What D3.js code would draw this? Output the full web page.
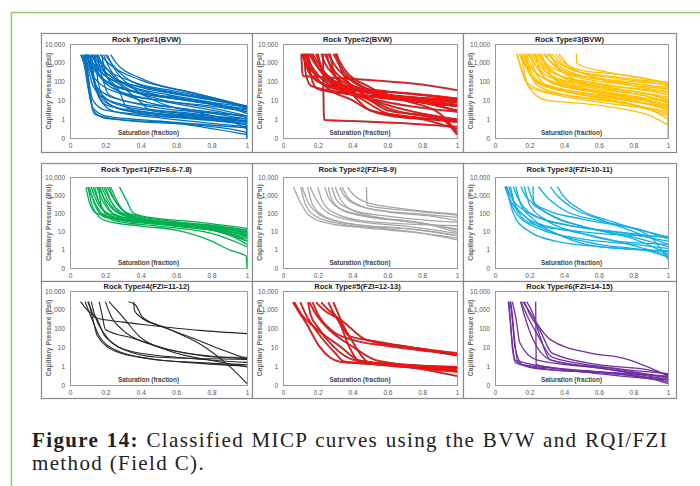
<!DOCTYPE html>
<html>
<head>
<meta charset="utf-8">
<script src="https://cdn.jsdelivr.net/npm/d3@7"></script>
<style>
  body { margin: 0; background: #fff; }
  svg { display: block; }
</style>
</head>
<body>
<svg id="chart" width="700" height="486"></svg>
<script>
// ---- data ----
var xTicks = [0, 0.2, 0.4, 0.6, 0.8, 1];
var xTickLabels = ["0", "0.2", "0.4", "0.6", "0.8", "1"];
var yTicks = [0.1, 1, 10, 100, 1000, 10000];
var yTickLabels = ["0", "1", "10", "100", "1,000", "10,000"];

var titles = ["Rock Type#1(BVW)", "Rock Type#2(BVW)", "Rock Type#3(BVW)",
  "Rock Type#1(FZI=6.6-7.8)", "Rock Type#2(FZI=8-9)", "Rock Type#3(FZI=10-11)",
  "Rock Type#4(FZI=11-12)", "Rock Type#5(FZI=12-13)", "Rock Type#6(FZI=14-15)"];
var colors = ["#0070c0", "#ff1010", "#ffc000", "#00b050", "#a6a6a6", "#12aee6", "#262626", "#ff1010", "#7030a0"];

// each curve: [saturation, capillary pressure (psi)]
var rt1Bvw = [
  [[.06,2700],[.08,800],[.1,60],[.13,4],[.2,1.5],[.5,.8],[1,.35]],
  [[.065,2700],[.09,500],[.11,20],[.14,1.8],[.3,.9],[.7,.5],[.995,.2],[1,.1]],
  [[.07,2700],[.1,600],[.13,60],[.2,12],[.4,4],[.7,2],[1,.8]],
  [[.08,2700],[.1,900],[.14,150],[.25,30],[.5,10],[.8,5],[1,2.5]],
  [[.085,2700],[.11,1200],[.17,200],[.3,45],[.6,14],[1,4.5]],
  [[.09,2700],[.12,700],[.2,100],[.35,30],[.6,12],[1,3.5]],
  [[.095,2700],[.12,300],[.16,40],[.3,10],[.6,4],[1,1.5]],
  [[.1,2700],[.12,400],[.15,30],[.2,6],[.4,2.5],[.8,1.2],[1,.7]],
  [[.102,2700],[.13,1000],[.2,200],[.4,50],[.7,15],[1,5]],
  [[.11,2700],[.14,600],[.22,80],[.45,20],[.75,8],[1,3]],
  [[.112,2700],[.13,200],[.18,20],[.3,5],[.6,2.2],[1,1]],
  [[.12,2700],[.15,900],[.25,150],[.5,35],[.8,12],[1,4.8]],
  [[.122,2700],[.14,100],[.2,8],[.4,2],[.7,1],[.995,.5],[1,.1]],
  [[.13,2700],[.17,700],[.3,80],[.55,20],[.85,6],[1,2]],
  [[.132,2700],[.16,300],[.25,40],[.5,10],[.8,3],[1,1.2]],
  [[.14,2700],[.18,800],[.35,100],[.6,30],[.9,8],[1,4]],
  [[.142,2700],[.16,80],[.2,10],[.3,3],[.6,1.5],[1,.8]],
  [[.15,2700],[.2,600],[.3,60],[.5,12],[.8,4],[1,1.5]],
  [[.16,2700],[.19,400],[.28,30],[.32,4],[.5,2],[1,.6]],
  [[.17,2700],[.22,900],[.4,120],[.7,25],[1,5]],
  [[.18,2700],[.2,300],[.26,40],[.4,10],[.7,3],[1,1]],
  [[.2,2700],[.24,800],[.35,100],[.6,25],[.9,7],[1,4]],
  [[.21,2700],[.25,500],[.35,50],[.5,8],[.75,2],[1,.7]],
  [[.23,2700],[.26,1000],[.4,150],[.65,30],[.9,8],[1,3.5]],
  [[.1,2700],[.13,150],[.17,12],[.25,2.5],[.5,1.2],[1,.4]],
  [[.09,2700],[.11,60],[.13,3],[.2,1.1],[.6,.6],[1,.15]],
  [[.152,2700],[.18,200],[.22,20],[.4,6],[.7,2.5],[1,1.5]],
  [[.125,2700],[.16,500],[.28,70],[.4,8],[.45,3],[.7,1.5],[.995,.5],[1,.1]],
  [[.08,2700],[.1,200],[.13,10],[.2,3],[.5,1.5],[.9,.8],[1,.3]],
  [[.19,2700],[.22,600],[.3,80],[.45,25],[.8,6],[1,2.5]]
];
var rt2Bvw = [
  [[.105,3000],[.11,400],[.115,200],[.25,170],[.5,120],[.8,70],[1,35]],
  [[.11,3000],[.14,500],[.2,100],[.35,40],[.6,20],[.85,12],[1,8]],
  [[.12,3000],[.15,300],[.25,60],[.4,25],[.7,12],[1,5]],
  [[.13,3000],[.16,800],[.22,150],[.35,30],[.55,10],[.8,4],[1,2.5]],
  [[.14,3000],[.17,400],[.25,50],[.4,10],[.5,3],[.7,1.5],[1,.7]],
  [[.15,3000],[.18,1000],[.3,100],[.5,25],[.8,8],[1,5]],
  [[.16,3000],[.2,600],[.3,60],[.45,12],[.6,2],[.8,1],[1,.3]],
  [[.17,3000],[.21,700],[.33,70],[.55,20],[.8,12],[1,10]],
  [[.23,3000],[.235,1.5],[.24,.9],[.4,.8],[.7,.6],[1,.4]],
  [[.22,3000],[.24,1000],[.3,200],[.45,40],[.7,15],[1,8]],
  [[.24,3000],[.27,800],[.35,120],[.5,30],[.75,12],[1,6]],
  [[.25,3000],[.28,400],[.38,40],[.55,8],[.75,2.5],[1,1]],
  [[.26,3000],[.3,700],[.4,100],[.6,20],[.85,6],[1,3]],
  [[.27,3000],[.3,200],[.4,20],[.5,3],[.7,1.2],[1,.9]],
  [[.29,3000],[.33,600],[.45,60],[.65,15],[.9,5],[1,2.5]],
  [[.3,3000],[.35,500],[.5,50],[.7,10],[.9,2],[1,.2]],
  [[.31,3000],[.34,300],[.45,25],[.6,4],[.8,1.5],[1,.8]],
  [[.122,3000],[.13,300],[.16,60],[.3,30],[.6,15],[1,12]],
  [[.142,3000],[.16,200],[.2,40],[.4,20],[.7,10],[1,5]],
  [[.19,3000],[.22,600],[.3,80],[.5,10],[.6,3],[.9,1.2],[1,.15]],
  [[.2,3000],[.23,300],[.3,60],[.45,35],[.7,25],[1,13]],
  [[.132,3000],[.15,600],[.2,200],[.4,50],[.6,30],[1,12]]
];
var rt3Bvw = [
  [[.125,3000],[.15,500],[.18,100],[.25,40],[.5,15],[.8,6],[1,2]],
  [[.127,3000],[.15,600],[.19,60],[.3,10],[.5,7],[.7,4],[.9,1.5],[1,.5]],
  [[.14,3000],[.17,800],[.22,150],[.35,50],[.6,20],[.85,10],[1,6]],
  [[.15,3000],[.18,600],[.24,100],[.4,30],[.7,12],[1,4]],
  [[.16,3000],[.19,900],[.26,200],[.45,60],[.75,20],[1,8]],
  [[.17,3000],[.2,500],[.27,80],[.5,25],[.8,10],[1,3]],
  [[.18,3000],[.21,700],[.28,150],[.5,40],[.8,15],[1,10]],
  [[.19,3000],[.23,900],[.3,200],[.5,70],[.8,30],[1,15]],
  [[.2,3000],[.24,600],[.32,100],[.55,35],[.85,12],[1,5]],
  [[.21,3000],[.25,800],[.33,200],[.55,60],[.85,25],[1,12]],
  [[.22,3000],[.26,1000],[.35,250],[.6,80],[.9,30],[1,20]],
  [[.23,3000],[.27,700],[.36,120],[.6,40],[.9,15],[1,7]],
  [[.24,3000],[.28,900],[.38,200],[.6,70],[.9,35],[1,25]],
  [[.25,3000],[.29,1000],[.4,300],[.65,120],[.9,60],[1,40]],
  [[.26,3000],[.3,800],[.4,150],[.65,50],[.9,20],[1,10]],
  [[.28,3000],[.32,1200],[.42,300],[.6,150],[.85,90],[1,70]],
  [[.29,3000],[.33,900],[.45,200],[.7,80],[1,40]],
  [[.3,3000],[.34,1500],[.45,400],[.65,200],[.85,120],[1,85]],
  [[.31,3000],[.35,1000],[.47,250],[.7,100],[1,50]],
  [[.33,3000],[.37,1200],[.5,300],[.7,150],[.9,90],[1,60]],
  [[.35,3000],[.4,1000],[.5,400],[.7,250],[.9,130],[1,80]],
  [[.37,3000],[.42,800],[.55,200],[.8,60],[1,30]],
  [[.47,3000],[.472,1000],[.5,700],[.6,400],[.8,180],[1,90]],
  [[.152,3000],[.17,300],[.2,50],[.35,20],[.6,8],[.9,3],[1,1]],
  [[.182,3000],[.2,300],[.25,60],[.4,20],[.7,8],[1,2.5]],
  [[.202,3000],[.23,400],[.3,60],[.5,20],[.8,6],[1,1.5]],
  [[.232,3000],[.26,400],[.33,80],[.55,30],[.85,12],[.995,5],[1,.1]],
  [[.27,3000],[.3,500],[.38,80],[.6,25],[.9,8],[1,3]],
  [[.162,3000],[.19,500],[.25,80],[.45,25],[.75,10],[1,5]],
  [[.32,3000],[.36,600],[.45,150],[.65,40],[.9,15],[1,8]]
];
var rt1Fzi = [
  [[.09,2800],[.11,400],[.15,100],[.3,50],[.6,30],[.85,15],[1,8]],
  [[.1,2800],[.13,600],[.18,100],[.3,40],[.6,25],[1,10]],
  [[.12,2800],[.14,800],[.2,120],[.35,50],[.6,30],[1,12]],
  [[.13,2800],[.16,500],[.22,80],[.4,35],[.7,20],[1,6]],
  [[.14,2800],[.17,300],[.25,60],[.45,30],[.75,15],[1,5]],
  [[.15,2800],[.18,600],[.24,100],[.4,40],[.7,25],[1,9]],
  [[.16,2800],[.19,800],[.26,120],[.4,45],[.7,20],[1,4]],
  [[.17,2800],[.2,400],[.28,60],[.5,25],[.8,12],[1,3]],
  [[.18,2800],[.21,600],[.3,80],[.5,30],[.8,15],[1,7]],
  [[.19,2800],[.22,700],[.3,100],[.5,35],[.8,20],[1,10]],
  [[.2,2800],[.23,500],[.32,70],[.55,25],[.85,10],[1,2]],
  [[.21,2800],[.24,800],[.33,100],[.55,40],[.85,20],[1,12]],
  [[.22,2800],[.25,600],[.34,80],[.6,30],[.9,15],[1,5]],
  [[.23,2800],[.27,400],[.35,60],[.6,20],[.9,8],[1,3]],
  [[.28,2800],[.32,500],[.36,100],[.45,60],[.7,35],[1,15]],
  [[.102,2800],[.13,200],[.2,40],[.4,20],[.6,12],[.8,3],[.9,1],[.995,.45],[1,.1]],
  [[.162,2800],[.18,200],[.25,40],[.5,20],[.8,8],[1,1.5]],
  [[.11,2800],[.14,300],[.2,60],[.4,30],[.75,18],[1,6]]
];
var rt2Fzi = [
  [[.06,2800],[.1,400],[.15,80],[.25,30],[.5,15],[.8,8],[1,3.5]],
  [[.11,2800],[.14,500],[.2,100],[.3,40],[.5,20],[.8,12],[1,6]],
  [[.156,2800],[.19,600],[.25,120],[.4,40],[.7,20],[1,8]],
  [[.24,2800],[.26,800],[.32,200],[.45,80],[.7,40],[1,14]],
  [[.26,2800],[.28,600],[.34,150],[.5,60],[.8,30],[1,9]],
  [[.325,2800],[.35,1000],[.42,300],[.55,150],[.8,90],[1,60]],
  [[.34,2800],[.37,800],[.45,250],[.6,120],[.85,70],[1,40]],
  [[.37,2800],[.4,1200],[.48,400],[.65,200],[.85,120],[1,90]],
  [[.48,2800],[.482,300],[.5,250],[.7,150],[.9,100],[1,80]],
  [[.102,2800],[.13,300],[.2,60],[.35,25],[.6,14],[1,4.5]],
  [[.2,2800],[.23,400],[.3,100],[.45,40],[.75,25],[1,21]],
  [[.28,2800],[.31,500],[.4,150],[.6,70],[.85,40],[1,32]],
  [[.3,2800],[.33,600],[.42,120],[.6,50],[.9,20],[1,12]],
  [[.142,2800],[.17,300],[.25,60],[.4,25],[.7,15],[1,6]]
];
var rt3Fzi = [
  [[.057,3000],[.08,800],[.15,100],[.3,20],[.6,8],[1,5.5]],
  [[.06,3000],[.09,400],[.13,80],[.25,15],[.5,4],[.8,2],[1,1.2]],
  [[.065,3000],[.1,600],[.2,100],[.4,25],[.7,10],[1,4.5]],
  [[.07,3000],[.09,300],[.12,50],[.2,10],[.35,3],[.6,1.5],[1,.8]],
  [[.105,3000],[.14,500],[.25,60],[.45,20],[.75,8],[1,3]],
  [[.15,3000],[.18,800],[.3,150],[.5,50],[.8,15],[1,5]],
  [[.19,3000],[.22,500],[.32,80],[.5,20],[.8,5],[1,1.5]],
  [[.22,3000],[.222,300],[.25,200],[.35,60],[.55,15],[.8,4],[1,.6]],
  [[.25,3000],[.3,800],[.4,150],[.6,40],[.85,12],[1,4]],
  [[.32,3000],[.35,1200],[.45,200],[.6,50],[.8,10],[1,2]],
  [[.36,3000],[.4,800],[.5,150],[.7,30],[.9,5],[1,.3]],
  [[.08,3000],[.11,400],[.18,60],[.35,8],[.6,2],[.9,.8],[1,.4]],
  [[.12,3000],[.15,300],[.22,50],[.4,5],[.6,1.5],[1,.9]],
  [[.09,3000],[.12,200],[.2,30],[.45,10],[.7,3],[1,.5]],
  [[.17,3000],[.2,300],[.3,40],[.5,8],[.7,3],[1,2]]
];
var rt4Fzi = [
  [[.06,2700],[.1,900],[.146,420],[.2,36],[.35,6],[.7,2.5],[1,1.6]],
  [[.1,2700],[.12,1000],[.137,400],[.3,220],[.45,150],[.73,80],[1,54]],
  [[.085,2700],[.12,400],[.165,40],[.26,7],[.45,2.5],[.7,1.6],[1,1.2]],
  [[.165,2700],[.18,600],[.2,90],[.36,30],[.55,8],[1,2.5]],
  [[.22,2700],[.3,400],[.39,40],[.55,7],[.8,2],[1,.9]],
  [[.33,2700],[.37,1800],[.41,400],[.55,100],[.73,16],[.9,1],[1,.12]],
  [[.36,2700],[.365,900],[.4,400],[.5,150],[.7,30],[.85,8],[1,2.5]],
  [[.105,2700],[.13,300],[.155,40],[.26,6],[.45,2.5],[.7,1.5],[1,1]],
  [[.12,2700],[.14,500],[.19,60],[.3,8],[.5,3],[.8,2.5],[1,2.3]],
  [[.2,2700],[.23,500],[.3,80],[.45,15],[.65,5],[.85,3],[1,3]]
];
var rt5Fzi = [
  [[.057,2500],[.09,800],[.134,190],[.21,11],[.33,1.7],[.6,1.2],[1,.9]],
  [[.065,2500],[.1,700],[.19,100],[.33,11],[.44,2],[.7,1],[1,.6]],
  [[.144,2500],[.16,500],[.2,120],[.29,11],[.42,2],[.7,1.2],[1,.9]],
  [[.153,2500],[.18,800],[.25,120],[.4,11],[.54,2],[.8,1],[1,.7]],
  [[.19,2500],[.24,900],[.33,300],[.48,25],[.71,11],[1,5]],
  [[.22,2500],[.26,1000],[.31,400],[.38,40],[.52,22],[.8,8],[1,3.7]],
  [[.26,2500],[.29,700],[.33,160],[.38,11],[.44,1.7],[.7,.9],[1,.5]],
  [[.29,2500],[.31,900],[.34,200],[.4,20],[.49,1.7],[.75,1],[1,.7]],
  [[.1,2500],[.13,600],[.2,60],[.3,5],[.35,1.8],[.7,1],[1,.3]],
  [[.17,2500],[.2,600],[.28,80],[.4,25],[.6,12],[.85,6],[1,4]]
];
var rt6Fzi = [
  [[.077,2700],[.085,500],[.096,40],[.115,2.2],[.22,.8],[.6,.45],[1,.2]],
  [[.087,2700],[.1,300],[.115,11],[.16,1.2],[.5,.6],[1,.3]],
  [[.1,2700],[.12,400],[.144,17],[.24,2.2],[.6,.8],[1,.25]],
  [[.148,2700],[.17,500],[.22,26],[.32,2.2],[.65,.7],[1,.2]],
  [[.16,2700],[.2,800],[.24,200],[.32,26],[.55,5],[.74,2.7],[.93,.6],[1,.3]],
  [[.183,2700],[.22,600],[.26,39],[.32,2.2],[.7,.7],[1,.25]],
  [[.235,2700],[.238,1.2],[.3,.9],[.7,.4],[1,.15]],
  [[.08,2700],[.09,200],[.1,10],[.12,1.5],[.3,.7],[.8,.35],[1,.12]],
  [[.15,2700],[.19,400],[.25,40],[.33,3],[.6,1],[1,.4]],
  [[.17,2700],[.2,600],[.26,80],[.33,5],[.6,1.2],[.9,.6],[1,.35]],
  [[.09,2700],[.1,600],[.11,50],[.13,2],[.4,.7],[1,.18]]
];
var allCurves = [rt1Bvw, rt2Bvw, rt3Bvw, rt1Fzi, rt2Fzi, rt3Fzi, rt4Fzi, rt5Fzi, rt6Fzi];

// ---- layout ----
var colLeft = [41, 252, 463], colRight = [252, 463, 676];
var rowTop = [33, 163, 281], rowBottom = [152, 281, 398];
var plotLeft = [70, 283, 495], plotRight = [247, 457, 668];
var plotTop = [44, 177, 291], plotBottom = [138, 268, 385];
var titleY = [42, 172, 289];
var sansFont = "'Liberation Sans', Arial, sans-serif";

var svg = d3.select("#chart");
svg.append("rect").attr("width", 700).attr("height", 486).attr("fill", "#fff");

// green frame of the figure box
svg.append("path")
  .attr("d", "M11.5,486 V12.5 H700")
  .attr("fill", "none").attr("stroke", "#8fcb72").attr("stroke-width", 1.5);

for (var i = 0; i < 9; ++i) {
  var r = Math.floor(i / 3), c = i % 3;
  var g = svg.append("g").attr("class", "panel");
  g.append("rect")
    .attr("x", colLeft[c] + 0.5).attr("y", rowTop[r] + 0.5)
    .attr("width", colRight[c] - colLeft[c]).attr("height", rowBottom[r] - rowTop[r])
    .attr("fill", "#fff").attr("stroke", "#8a8a8a").attr("stroke-width", 1.2);

  var x = d3.scaleLinear().domain([0, 1]).range([plotLeft[c], plotRight[c]]);
  var y = d3.scaleLog().domain([0.1, 10000]).range([plotBottom[r], plotTop[r]]);

  g.append("clipPath").attr("id", "clip" + i)
    .append("rect")
    .attr("x", plotLeft[c]).attr("y", plotTop[r])
    .attr("width", plotRight[c] - plotLeft[c]).attr("height", plotBottom[r] - plotTop[r]);

  var line = d3.line()
    .x(function(d) { return x(d[0]); })
    .y(function(d) { return y(d[1]); })
    .curve(d3.curveMonotoneX);

  var g_line = g.append("g").attr("clip-path", "url(#clip" + i + ")");
  var darkEdge = (i == 1 || i == 7);
  if (darkEdge) {
    g_line.selectAll("path.edge").data(allCurves[i]).enter().append("path")
      .attr("class", "edge").attr("d", line)
      .attr("fill", "none").attr("stroke", "#5a1616").attr("stroke-width", 2)
      .attr("stroke-opacity", 0.7);
  }
  g_line.selectAll("path.curve").data(allCurves[i]).enter().append("path")
    .attr("class", "curve").attr("d", line)
    .attr("fill", "none").attr("stroke", colors[i])
    .attr("stroke-width", darkEdge ? 1.1 : (i == 6 ? 1.1 : 1.3))
    .attr("stroke-linejoin", "round");

  // plot frame
  g.append("rect")
    .attr("x", plotLeft[c] + 0.5).attr("y", plotTop[r] + 0.5)
    .attr("width", plotRight[c] - plotLeft[c]).attr("height", plotBottom[r] - plotTop[r])
    .attr("fill", "none").attr("stroke", "#9a9a9a").attr("stroke-width", 1);

  var axisY = d3.axisLeft(y).tickValues(yTicks).tickSize(0).tickPadding(5)
    .tickFormat(function(d, k) { return yTickLabels[k]; });
  var gy = g.append("g").attr("transform", "translate(" + plotLeft[c] + ",0)").call(axisY);
  var axisX = d3.axisBottom(x).tickValues(xTicks).tickSize(0).tickPadding(5)
    .tickFormat(function(d, k) { return xTickLabels[k]; });
  var gx = g.append("g").attr("transform", "translate(0," + plotBottom[r] + ")").call(axisX);
  [gx, gy].forEach(function(a) {
    a.select(".domain").remove();
    a.selectAll("text").attr("font-family", sansFont)
      .attr("font-size", 6.5).attr("fill", "#555");
  });

  g.append("text")
    .attr("x", (colLeft[c] + colRight[c]) / 2).attr("y", titleY[r])
    .attr("text-anchor", "middle")
    .attr("font-family", sansFont)
    .attr("font-size", 7.6).attr("font-weight", "bold").attr("fill", "#222")
    .text(titles[i]);

  g.append("text")
    .attr("transform", "translate(" + (colLeft[c] + 10) + "," + ((plotTop[r] + plotBottom[r]) / 2) + ") rotate(-90)")
    .attr("text-anchor", "middle")
    .attr("font-family", sansFont)
    .attr("font-size", 6.8).attr("font-weight", "bold").attr("fill", "#666")
    .text("Capillary Pressure (Psi)");

  g.append("text")
    .attr("x", (plotLeft[c] + plotRight[c]) / 2 - 10).attr("y", plotBottom[r] - 3)
    .attr("text-anchor", "middle")
    .attr("font-family", sansFont)
    .attr("font-size", 6.4).attr("font-weight", "bold").attr("fill", "#444")
    .text("Saturation (fraction)");
}

// caption: first line justified to the figure width
var serif = "'Liberation Serif', 'Times New Roman', serif";
var cap2 = svg.append("text")
  .attr("x", 32).attr("y", 470)
  .attr("font-family", serif)
  .attr("font-size", 21).attr("fill", "#222")
  .text("method (Field C).");
var ls = Math.max(0, (173 - cap2.node().getComputedTextLength()) / 17);
cap2.attr("letter-spacing", ls + "px");

var cap1 = svg.append("text")
  .attr("x", 32).attr("y", 447)
  .attr("font-family", serif)
  .attr("font-size", 21).attr("fill", "#222")
  .attr("letter-spacing", ls + "px");
cap1.append("tspan").attr("font-weight", "bold").text("Figure 14:");
cap1.append("tspan").text(" Classified MICP curves using the BVW and RQI/FZI");
var w = cap1.node().getComputedTextLength();
cap1.attr("word-spacing", ((668 - 32 - w) / 9) + "px");
</script>
</body>
</html>
